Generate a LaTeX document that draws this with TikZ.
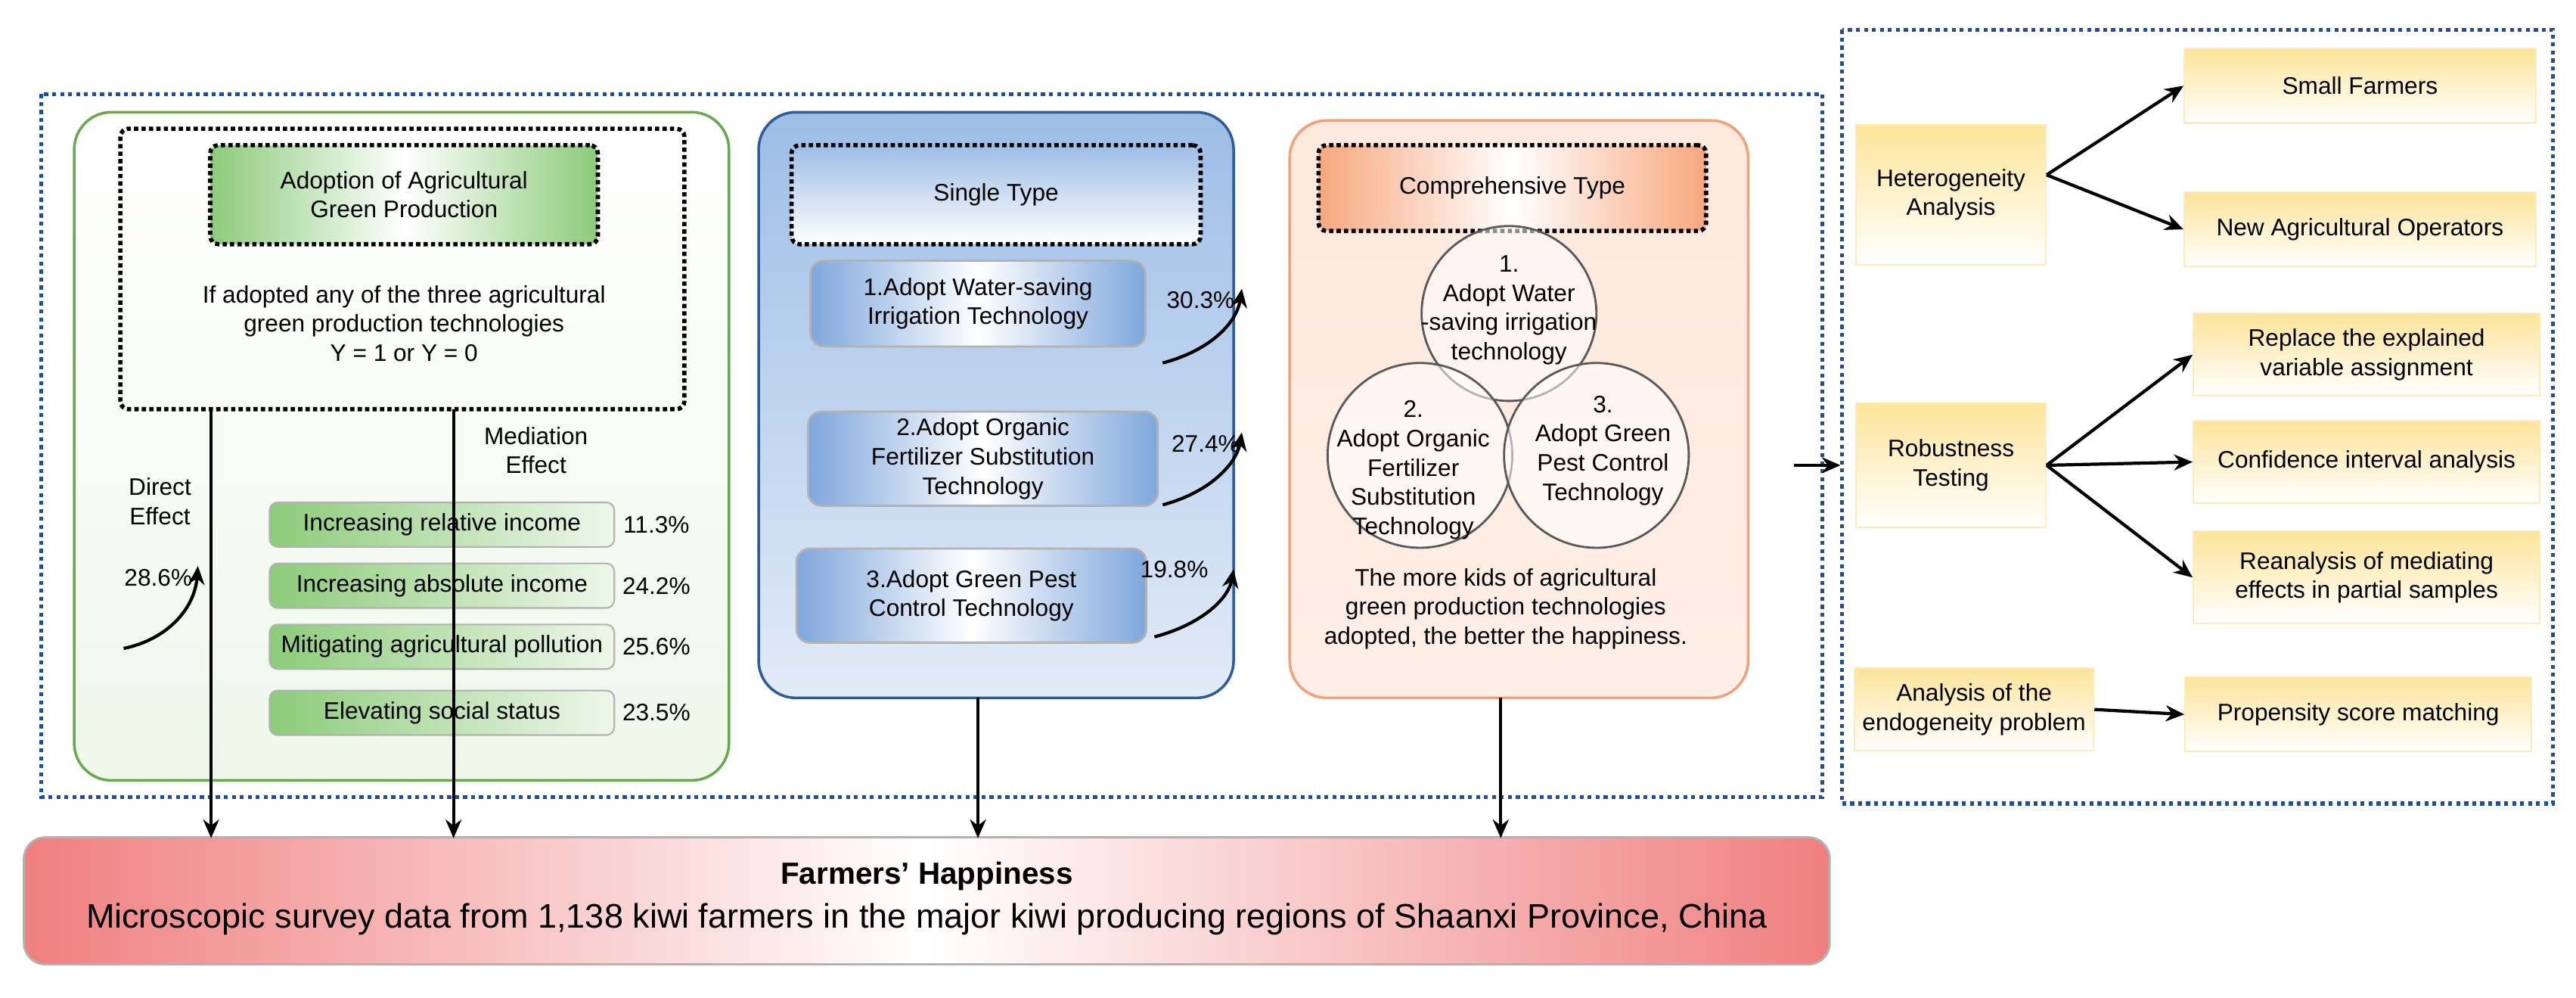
\documentclass[tikz,border=0pt]{standalone}
\usepackage{fontspec}
\setmainfont{Liberation Sans}
\usetikzlibrary{arrows.meta}
\definecolor{gedge}{HTML}{6AA84F}
\definecolor{gfill}{HTML}{EEF7EA}
\definecolor{ghead}{HTML}{8CCB7A}
\definecolor{bedge}{HTML}{2E5C9A}
\definecolor{bfill}{HTML}{9DBDE6}
\definecolor{bsub}{HTML}{7FA7DC}
\definecolor{oedge}{HTML}{F2A27A}
\definecolor{ofill}{HTML}{FDE3D4}
\definecolor{ohead}{HTML}{F7A87E}
\definecolor{ydark}{HTML}{FDE49A}
\definecolor{dblue}{HTML}{1F4E9A}
\definecolor{hred}{HTML}{F07F7F}
\tikzset{
  x=0.0218cm, y=-0.0218cm,
  txt/.style={font=\fontsize{9}{11}\selectfont, align=center, inner sep=0pt},
  dotbox/.style={draw=black, line width=1.6pt, dash pattern=on 1.6pt off 1.2pt, rounded corners=3pt},
  bluedot/.style={draw=dblue, line width=1.5pt, dash pattern=on 1.5pt off 1.5pt},
  arr/.style={-{Stealth[length=7pt,width=6pt]}, line width=1.2pt},
  med/.style={draw=gray!60, line width=0.6pt, rounded corners=3pt, left color=ghead, right color=gfill, txt},
  bsubs/.style={draw=gray!60, line width=0.8pt, rounded corners=5pt, left color=bsub, right color=bsub, middle color=white, txt},
  ybox/.style={draw=ydark!70, line width=0.6pt, top color=ydark, bottom color=white, txt},
  circ/.style={circle, draw=gray!70!black, line width=0.8pt, fill=white, fill opacity=0.55, text opacity=1, txt},
}
\begin{document}
\begin{tikzpicture}
\useasboundingbox (0,0) rectangle (1562,604.5);
\fill[white] (0,0) rectangle (1562,604.5);
% outer boxes
\draw[bluedot] (25,57) rectangle (1105,483);
\draw[bluedot] (1117,18) rectangle (1548,487);
% green panel
\path[draw=gedge, line width=1pt, rounded corners=14pt, top color=white, bottom color=gfill] (45,68) rectangle (442,473);
\draw[dotbox] (73,78) rectangle (415,248);
\coordinate (gbl) at (128,248);
\coordinate (gbm) at (275,248);
\node[dotbox, left color=ghead, right color=ghead, middle color=white, minimum width=235*0.0218cm, minimum height=60*0.0218cm, txt] (ghd) at (245,118) {Adoption of Agricultural\\Green Production};
\node[txt] (gtx) at (245,196) {If adopted any of the three agricultural\\green production technologies\\Y = 1 or Y = 0};
\node[txt] (medl) at (325,273) {Mediation\\Effect};
\node[txt] (dirl) at (97,304) {Direct\\Effect};
\node[txt] (p286) at (96,350) {28.6\%};
\coordinate (c1a) at (75,393); \coordinate (c1b) at (120,343);
\draw[arr] (c1a) .. controls (100,388) and (118,370) .. (c1b);
\foreach \n/\y/\t/\p in {m1/318/Increasing relative income/11.3\%, m2/355/Increasing absolute income/24.2\%, m3/392/Mitigating agricultural pollution/25.6\%, m4/432/Elevating social status/23.5\%}{
  \node[med, minimum width=209*0.0218cm, minimum height=27*0.0218cm] (\n) at (268,\y) {\t};
  \node[txt] (\n p) at (398,\y) {\p};
}
% blue panel
\path[draw=bedge, line width=1pt, rounded corners=14pt, top color=bfill, bottom color=bfill!30] (460,68) rectangle (748,423);
\node[dotbox, top color=bfill, bottom color=white, minimum width=248*0.0218cm, minimum height=60*0.0218cm, txt] (sng) at (604,118) {Single Type};
\node[bsubs, minimum width=203*0.0218cm, minimum height=52*0.0218cm] (b1) at (593,184) {1.Adopt Water-saving\\Irrigation Technology};
\node[bsubs, minimum width=212*0.0218cm, minimum height=57*0.0218cm] (b2) at (596,278) {2.Adopt Organic\\Fertilizer Substitution\\Technology};
\node[bsubs, minimum width=212*0.0218cm, minimum height=57*0.0218cm] (b3) at (589,361) {3.Adopt Green Pest\\Control Technology};
\node[txt] (p1) at (728,182) {30.3\%};
\node[txt] (p2) at (731,269) {27.4\%};
\node[txt] (p3) at (712,345) {19.8\%};
\coordinate (a1) at (705,220); \coordinate (a1e) at (753,175);
\coordinate (a2) at (705,306); \coordinate (a2e) at (753,262);
\coordinate (a3) at (700,386); \coordinate (a3e) at (748,345);
\draw[arr] (a1) .. controls (735,212) and (750,195) .. (a1e);
\draw[arr] (a2) .. controls (735,298) and (750,280) .. (a2e);
\draw[arr] (a3) .. controls (730,378) and (745,362) .. (a3e);
% orange panel
\path[draw=oedge, line width=1pt, rounded corners=14pt, top color=ofill!80, bottom color=ofill!60] (782,73) rectangle (1060,423);
\node[dotbox, left color=ohead, right color=ohead, middle color=white, minimum width=235*0.0218cm, minimum height=52*0.0218cm, txt] (cmp) at (917,114) {Comprehensive Type};
\node[circ, minimum size=106*0.0218cm] (c1) at (915,190) {};
\node[circ, minimum size=112*0.0218cm] (c2) at (861,276) {};
\node[circ, minimum size=112*0.0218cm] (c3) at (968,276) {};
\node[txt] (c1t) at (915,188) {1.\\Adopt Water\\-saving irrigation\\technology};
\node[txt] (c2t) at (857,285) {2.\\Adopt Organic\\Fertilizer\\Substitution\\Technology};
\node[txt] (c3t) at (972,273) {3.\\Adopt Green\\Pest Control\\Technology};
\node[txt] (otx) at (913,369) {The more kids of agricultural\\green production technologies\\adopted, the better the happiness.};
% happiness
\node[draw=gray!60, line width=0.8pt, rounded corners=8pt, left color=hred, right color=hred, middle color=white, minimum width=1095*0.0218cm, minimum height=77*0.0218cm, inner sep=0pt] (hap) at (562,546) {};
\node[txt, font=\fontsize{11.5}{13}\bfseries] (h1) at (562,531) {Farmers' Happiness};
\node[txt, font=\fontsize{12.8}{14}\selectfont] (h2) at (562,557) {Microscopic survey data from 1,138 kiwi farmers in the major kiwi producing regions of Shaanxi Province, China};
\coordinate (hl) at (128,508); \coordinate (hm) at (275,508);
\coordinate (hb) at (593,508); \coordinate (ho) at (910,508);
\draw[arr] (gbl) -- (hl);
\draw[arr] (gbm) -- (hm);
\draw[arr] (593,423) -- (hb);
\draw[arr] (910,423) -- (ho);
% right side
\coordinate (bg) at (1088,282); \coordinate (bge) at (1116,282);
\draw[arr] (bg) -- (bge);
\node[ybox, minimum width=115*0.0218cm, minimum height=85*0.0218cm] (het) at (1183,118) {Heterogeneity\\Analysis};
\node[ybox, minimum width=213*0.0218cm, minimum height=45*0.0218cm] (sf) at (1431,52) {Small Farmers};
\node[ybox, minimum width=213*0.0218cm, minimum height=45*0.0218cm] (nao) at (1431,139) {New Agricultural Operators};
\node[ybox, minimum width=115*0.0218cm, minimum height=75*0.0218cm] (rob) at (1183,282) {Robustness\\Testing};
\node[ybox, minimum width=210*0.0218cm, minimum height=50*0.0218cm] (rep) at (1435,215) {Replace the explained\\variable assignment};
\node[ybox, minimum width=210*0.0218cm, minimum height=50*0.0218cm] (ci) at (1435,280) {Confidence interval analysis};
\node[ybox, minimum width=210*0.0218cm, minimum height=56*0.0218cm] (rea) at (1435,350) {Reanalysis of mediating\\effects in partial samples};
\node[ybox, minimum width=145*0.0218cm, minimum height=50*0.0218cm] (endo) at (1197,430) {Analysis of the\\endogeneity problem};
\node[ybox, minimum width=210*0.0218cm, minimum height=45*0.0218cm] (psm) at (1430,433) {Propensity score matching};
\draw[arr] (het.east) ++(0,-12) -- (sf.west);
\draw[arr] (het.east) ++(0,-12) -- (nao.west);
\draw[arr] (rob.east) -- (rep.west);
\draw[arr] (rob.east) -- (ci.west);
\draw[arr] (rob.east) -- (rea.west);
\draw[arr] (endo.east) -- (psm.west);
\end{tikzpicture}
\end{document}
